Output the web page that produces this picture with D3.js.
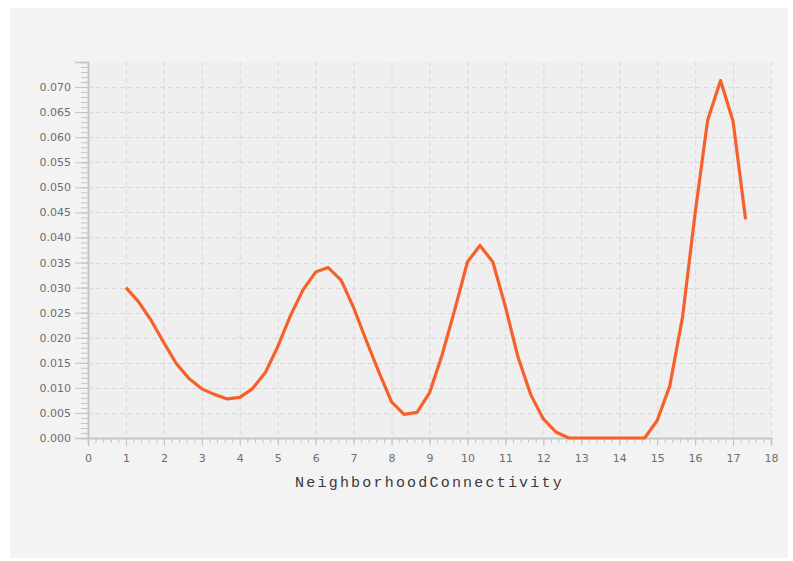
<!DOCTYPE html>
<html>
<head>
<meta charset="utf-8">
<script src="https://cdn.jsdelivr.net/npm/d3@7"></script>
<style>
  body { margin: 0; background: #ffffff; }
  svg { display: block; }
  .tick-label { font-family: "DejaVu Sans", sans-serif; font-size: 11px; fill: #6e6e6e; }
  .axis-title { font-family: "Liberation Mono", monospace; font-size: 15px; fill: #3a3a3a; letter-spacing: 2.2px; }
</style>
</head>
<body>
<div id="chart"></div>
<script>
// Distribution of NeighborhoodConnectivity
let connectivity = [
  1.00, 1.33, 1.67, 2.00, 2.33, 2.67, 3.00, 3.33, 3.67, 4.00,
  4.33, 4.67, 5.00, 5.33, 5.67, 6.00, 6.33, 6.67, 7.00, 7.33,
  7.67, 8.00, 8.33, 8.67, 9.00, 9.33, 9.67, 10.00, 10.33, 10.67,
  11.00, 11.33, 11.67, 12.00, 12.33, 12.67, 13.00, 13.33, 13.67, 14.00,
  14.33, 14.67, 15.00, 15.33, 15.67, 16.00, 16.33, 16.67, 17.00, 17.33
];
let density = [
  0.0300, 0.0272, 0.0234, 0.0190, 0.0148, 0.0118, 0.0098, 0.0087, 0.0078, 0.0081,
  0.0098, 0.0130, 0.0182, 0.0243, 0.0296, 0.0331, 0.0340, 0.0315, 0.0260, 0.0195,
  0.0131, 0.0072, 0.0047, 0.0051, 0.0090, 0.0165, 0.0257, 0.0351, 0.0384, 0.0351,
  0.0262, 0.0162, 0.0086, 0.0038, 0.0012, 0.0000, 0.0000, 0.0000, 0.0000, 0.0000,
  0.0000, 0.0000, 0.0035, 0.0103, 0.0242, 0.0448, 0.0634, 0.0713, 0.0632, 0.0436
];
let xTicks = [0, 1, 2, 3, 4, 5, 6, 7, 8, 9, 10, 11, 12, 13, 14, 15, 16, 17, 18];
let yTicks = [0, 0.005, 0.01, 0.015, 0.02, 0.025, 0.03, 0.035, 0.04, 0.045, 0.05, 0.055, 0.06, 0.065, 0.07];
let xTitle = "NeighborhoodConnectivity";

let WIDTH = 793, HEIGHT = 561;
let plot = {left: 88, right: 771, top: 62, bottom: 438};

let svg = d3.select("#chart").append("svg")
  .attr("width", WIDTH).attr("height", HEIGHT);

// outer panel + plot background
svg.append("rect").attr("x", 10).attr("y", 8).attr("width", 778).attr("height", 550)
  .attr("fill", "#f3f3f3");
svg.append("rect").attr("x", plot.left).attr("y", plot.top)
  .attr("width", plot.right - plot.left).attr("height", plot.bottom - plot.top)
  .attr("fill", "#efefef");

let x = d3.scaleLinear().domain([0, 18]).range([plot.left, plot.right]);
let y = d3.scaleLinear().domain([0, 0.075]).range([plot.bottom, plot.top]);

// dashed grid
let grid = svg.append("g").attr("stroke", "#d9d9d9").attr("stroke-dasharray", "5,3");
grid.selectAll("line.v").data(xTicks.slice(1)).enter().append("line")
  .attr("class", "v")
  .attr("x1", d => x(d) + 0.5).attr("x2", d => x(d) + 0.5)
  .attr("y1", plot.top).attr("y2", plot.bottom);
grid.selectAll("line.h").data(yTicks.slice(1)).enter().append("line")
  .attr("class", "h")
  .attr("x1", plot.left).attr("x2", plot.right)
  .attr("y1", d => Math.round(y(d)) + 0.5).attr("y2", d => Math.round(y(d)) + 0.5);

// axes
let xAxis = d3.axisBottom(x).tickValues(xTicks).tickFormat(d3.format("d"))
  .tickSize(8).tickPadding(8);
let xMinor = d3.axisBottom(x).ticks(90).tickFormat("").tickSize(5);
let yAxis = d3.axisLeft(y).tickValues(yTicks).tickFormat(d3.format(".3f"))
  .tickSize(13).tickPadding(4);
let yMinor = d3.axisLeft(y).ticks(75).tickFormat("").tickSize(7);

function styleAxis(g) {
  g.select(".domain").attr("stroke", "#c4c4c4").attr("stroke-width", 1.5);
  g.selectAll(".tick line").attr("stroke", "#c4c4c4");
  g.selectAll(".tick text").attr("class", "tick-label").attr("fill", null);
  g.attr("font-family", null).attr("font-size", null);
}

svg.append("g").attr("transform", `translate(0,${plot.bottom})`).call(xMinor).call(styleAxis);
svg.append("g").attr("transform", `translate(0,${plot.bottom})`).call(xAxis).call(styleAxis);
svg.append("g").attr("transform", `translate(${plot.left},0)`).call(yMinor).call(styleAxis);
svg.append("g").attr("transform", `translate(${plot.left},0)`).call(yAxis).call(styleAxis);

// x title
svg.append("text").attr("class", "axis-title")
  .attr("x", (plot.left + plot.right) / 2).attr("y", 487)
  .attr("text-anchor", "middle")
  .text(xTitle);

// the curve
let points = connectivity.map((c, i) => [c, density[i]]);
let line = d3.line().x(d => x(d[0])).y(d => y(d[1]));
svg.append("path").datum(points)
  .attr("d", line)
  .attr("fill", "none")
  .attr("stroke", "#f5602b")
  .attr("stroke-width", 3.2)
  .attr("stroke-linejoin", "round");
</script>
</body>
</html>
